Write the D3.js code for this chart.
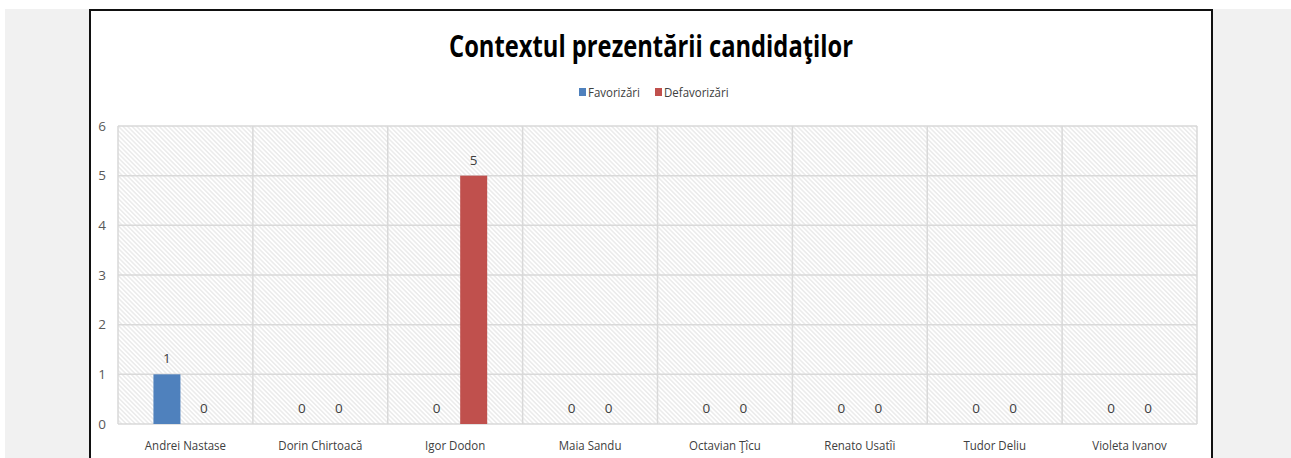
<!DOCTYPE html>
<html>
<head>
<meta charset="utf-8">
<script src="https://cdn.jsdelivr.net/npm/d3@7"></script>
<style>
  html, body { margin: 0; padding: 0; background: #ffffff; }
  svg { display: block; }
</style>
</head>
<body>
<svg id="chart" width="1291" height="458"></svg>
<script>
// Candidates shown along the x axis
const categories = ["Andrei Nastase", "Dorin Chirtoacă", "Igor Dodon", "Maia Sandu",
                    "Octavian Ţîcu", "Renato Usatîi", "Tudor Deliu", "Violeta Ivanov"];
// Series names and their counts per candidate
const seriesNames = ["Favorizări", "Defavorizări"];
const favorizari   = [1, 0, 0, 0, 0, 0, 0, 0];
const defavorizari = [0, 0, 5, 0, 0, 0, 0, 0];
const yTicks = [0, 1, 2, 3, 4, 5, 6];
const titleText = "Contextul prezentării candidaţilor";

const colors = { "Favorizări": "#4f81bd", "Defavorizări": "#c0504d" };
const font = "'Liberation Sans Narrow', 'Open Sans', sans-serif";

const rows = categories.map((c, i) => ({
  name: c,
  values: [
    { key: seriesNames[0], value: favorizari[i] },
    { key: seriesNames[1], value: defavorizari[i] }
  ]
}));

// squeeze a text selection horizontally to a narrower, condensed look
function condense(sel, k) {
  sel.each(function () {
    const w = this.getComputedTextLength();
    d3.select(this).attr("textLength", w * k).attr("lengthAdjust", "spacingAndGlyphs");
  });
}

const svg = d3.select("#chart");

// page backdrop and chart frame
svg.append("rect").attr("x", 5).attr("y", 9).attr("width", 1286).attr("height", 449).attr("fill", "#f1f1f1");
svg.append("rect").attr("x", 90).attr("y", 10).attr("width", 1122).attr("height", 460)
  .attr("fill", "#ffffff").attr("stroke", "#111").attr("stroke-width", 2);

// diagonal hatch used for the plot background
const defs = svg.append("defs");
const pat = defs.append("pattern").attr("id", "hatch").attr("patternUnits", "userSpaceOnUse")
  .attr("width", 3.2).attr("height", 3.2).attr("patternTransform", "rotate(-45)");
pat.append("rect").attr("width", 3.2).attr("height", 3.2).attr("fill", "#ffffff");
pat.append("line").attr("x1", 0.8).attr("y1", 0).attr("x2", 0.8).attr("y2", 3.2)
  .attr("stroke", "#e2e2e2").attr("stroke-width", 1);

const plot = { left: 118, right: 1197, top: 126, bottom: 424 };

const x0 = d3.scaleBand().domain(categories).range([plot.left, plot.right]).padding(0);
const y = d3.scaleLinear().domain([0, 6]).range([plot.bottom, plot.top]);
const mid = x0.bandwidth() / 2;
const x1 = d3.scaleBand().domain(seriesNames).range([mid - 32, mid + 32]).paddingInner(0.27).paddingOuter(0);

// plot area fill
svg.append("rect").attr("x", plot.left).attr("y", plot.top)
  .attr("width", plot.right - plot.left).attr("height", plot.bottom - plot.top)
  .attr("fill", "url(#hatch)");

// horizontal gridlines
svg.append("g").selectAll("line").data(yTicks).join("line")
  .attr("x1", plot.left).attr("x2", plot.right)
  .attr("y1", d => y(d)).attr("y2", d => y(d))
  .attr("stroke", "#d9d9d9").attr("stroke-width", 1.5);

// vertical category separators
const seps = categories.map(c => x0(c)).concat([plot.right]);
svg.append("g").selectAll("line").data(seps).join("line")
  .attr("x1", d => d).attr("x2", d => d)
  .attr("y1", plot.top).attr("y2", plot.bottom)
  .attr("stroke", "#d9d9d9").attr("stroke-width", 1.5);

// y axis labels
const yAxis = d3.axisLeft(y).tickValues(yTicks).tickSize(0).tickPadding(12).tickFormat(d3.format("d"));
const yg = svg.append("g").attr("transform", `translate(${plot.left},0)`).call(yAxis);
yg.select(".domain").remove();
yg.selectAll("text").attr("font-family", font).attr("font-size", 13.5).attr("fill", "#595959");

// x axis labels
const xAxis = d3.axisBottom(x0).tickSize(0).tickPadding(16);
const xg = svg.append("g").attr("transform", `translate(0,${plot.bottom})`).call(xAxis);
xg.select(".domain").remove();
xg.selectAll("text").attr("font-family", font).attr("font-size", 13.5).attr("fill", "#404040")
  .call(condense, 0.85);

// bars and value labels
const groups = svg.append("g").selectAll("g").data(rows).join("g")
  .attr("transform", d => `translate(${x0(d.name)},0)`);
groups.selectAll("rect").data(d => d.values).join("rect")
  .attr("x", d => x1(d.key)).attr("width", x1.bandwidth())
  .attr("y", d => y(d.value)).attr("height", d => y(0) - y(d.value))
  .attr("fill", d => colors[d.key]);
groups.selectAll("text").data(d => d.values).join("text")
  .attr("x", d => x1(d.key) + x1.bandwidth() / 2)
  .attr("y", d => y(d.value) - 11)
  .attr("text-anchor", "middle")
  .attr("font-family", font).attr("font-size", 13.5).attr("fill", "#404040")
  .text(d => d.value);

// title
svg.append("text").attr("x", 651).attr("y", 57).attr("text-anchor", "middle")
  .attr("font-family", font).attr("font-weight", "bold").attr("font-size", 30)
  .attr("fill", "#000")
  .attr("textLength", 404).attr("lengthAdjust", "spacingAndGlyphs")
  .text(titleText);

// legend
const legend = svg.append("g");
const legendItems = [{ key: seriesNames[0], x: 579 }, { key: seriesNames[1], x: 655 }];
legendItems.forEach(it => {
  legend.append("rect").attr("x", it.x).attr("y", 88).attr("width", 7).attr("height", 8)
    .attr("fill", colors[it.key]);
  legend.append("text").attr("x", it.x + 9).attr("y", 97)
    .attr("font-family", font).attr("font-size", 13.5).attr("fill", "#404040")
    .text(it.key)
    .call(condense, 0.85);
});
</script>
</body>
</html>
